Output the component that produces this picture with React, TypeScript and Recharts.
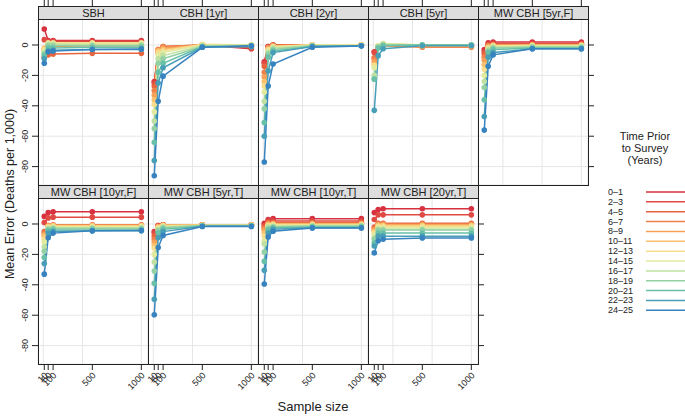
import React from "react";
import { LineChart, Line, XAxis, YAxis, CartesianGrid } from "recharts";

// sample sizes on the x axis
const sampleSizes = [10, 50, 100, 500, 1000];
const xGridTicks = [0, 200, 400, 600, 800, 1000];
const yTicks = [-80, -60, -40, -20, 0];

const periods = [
  "0–1", "2–3", "4–5", "6–7", "8–9", "10–11", "12–13",
  "14–15", "16–17", "18–19", "20–21", "22–23", "24–25",
];
const periodColors = [
  "#D7303F", "#DF4A43", "#E8643F", "#EF8049", "#F5A058", "#F9C06D", "#F8DD8C",
  "#E2EA9E", "#BEE0A0", "#93D1A4", "#68C0A8", "#479EB7", "#3783BF",
];

// mean error per period (rows) and sample size (columns)
const sbh = [
  [10.5, 3, 3, 3, 3],
  [3.5, 2.5, 2.5, 2.5, 2.5],
  [-8, -6.5, -6, -5.5, -5.5],
  [-3, -1, -1, -0.5, -0.5],
  [-4, 0, 0, 0, 0],
  [-2, 1, 1, 1, 1],
  [-3, 1.5, 1.5, 1.5, 1.5],
  [-4, 1, 1, 1, 1],
  [-5, 0.5, 0.5, 0, 0],
  [-6, -0.5, -0.5, -0.5, -0.5],
  [-7, -2, -2, -1.5, -1.5],
  [-9, -4, -3.5, -3, -3],
  [-12, -4.5, -4, -3, -2.6],
];
const cbh1 = [
  [-24, -5, -2, 0, -2.5],
  [-25, -4, -1.5, 0, -2],
  [-27, -3, -1, 0, -1],
  [-30, -3, -1, 0, -0.5],
  [-33, -3.5, -2, 0, 0],
  [-36, -4, -3, 0, 0],
  [-39, -5, -4, 0.5, 0],
  [-44, -7, -5, 0, 0],
  [-50, -9, -7, -0.5, 0],
  [-55, -12, -9, -1, -0.5],
  [-64, -18, -12, -1, -1],
  [-76, -25, -15, -1.5, -1],
  [-86, -37, -20.5, -1.5, -0.5],
];
const cbh2 = [
  [-11, -1, 0, 0, 0],
  [-12, -1, 0, 0, 0],
  [-14, -1.5, 0, 0, 0],
  [-18, -2, -0.5, 0, 0],
  [-21, -2, -0.5, 0, 0],
  [-24, -3, -1, 0, 0],
  [-27, -3, -1, 0, 0],
  [-31, -4, -1.5, 0, 0],
  [-37, -5, -2, -0.5, -0.5],
  [-42, -6, -3, -0.5, -0.5],
  [-51, -8, -4, -1, -0.5],
  [-60, -17, -5, -1, -0.5],
  [-77, -27, -12.5, -1.5, -0.7],
];
const cbh5 = [
  [-4.5, -1, 0, 0, 0],
  [-5, -1, 0, -0.5, -0.5],
  [-8.5, -1, 0, -1, -1],
  [-9, -1.5, -0.5, -1.5, -1.5],
  [-11, -1, 0, -1, -1],
  [-13, -1, 0.5, -0.5, -0.5],
  [-13.5, -0.5, 1, 0, 0],
  [-15, -0.5, 1, 0, 0],
  [-20, -1, 0.5, 0, 0],
  [-22, -1.5, 0, 0, 0],
  [-22.5, -2, -0.5, 0, 0],
  [-43, -7, -2.5, -0.5, -0.5],
  [null, null, null, null, null],
];
const mw5f = [
  [-3, 1.5, 2, 2, 2],
  [-4.5, 0.5, 1, 1, 1],
  [-6, 0, 0.5, 0.5, 0.5],
  [-8, -0.5, 0, 0, 0],
  [-10, -1, 0, 0, 0],
  [-13, -1.5, -0.5, 0, 0],
  [-16, -2, -0.5, -0.5, -0.5],
  [-20, -2.5, -1, -0.5, -0.5],
  [-24, -3, -1.5, -1, -1],
  [-28, -4, -2, -1.5, -1.5],
  [-36, -5, -3, -2, -2],
  [-47, -8, -5, -2.5, -2.5],
  [-56, -14, -6.5, -2.5, -2.5],
];
const mw10f = [
  [5, 7.5, 8, 8, 8],
  [1, 4, 4.5, 4.5, 4.5],
  [-5, -1, -0.5, -0.5, -0.5],
  [-6, -1, -1, -1, -1],
  [-7, -1.5, -1, -1, -1],
  [-8, -1.5, -1, -1, -1],
  [-10, -2, -1.5, -1.5, -1.5],
  [-12, -2.5, -2, -2, -2],
  [-15, -3, -2.5, -2.5, -2.5],
  [-18, -3.5, -3, -3, -3],
  [-22, -4.5, -4, -4, -4],
  [-26, -6, -5, -4.5, -4.5],
  [-33, -9, -6, -4.5, -4.2],
];
const mw5t = [
  [-5, -1, -0.5, -0.5, -0.5],
  [-6, -1, -0.5, -0.5, -0.5],
  [-8, -1.5, -0.5, -0.5, -0.5],
  [-10, -1.5, -0.5, -0.5, -0.5],
  [-12, -2, -1, -0.5, -0.5],
  [-14, -2, -1, -0.5, -0.5],
  [-16, -2.5, -1, -1, -1],
  [-20, -3, -1.5, -1, -1],
  [-25, -3.5, -2, -1, -1],
  [-31, -4.5, -2.5, -1, -1],
  [-39, -6, -3.5, -1.5, -1.5],
  [-49.5, -9, -5, -1.5, -1.5],
  [-59.7, -15.5, -7.5, -1.6, -1.6],
];
const mw10t = [
  [0.5, 3, 3.5, 3.5, 3.5],
  [-1, 2, 2, 2, 2],
  [-2, 1, 1, 1, 1],
  [-3, 0.5, 0.5, 0.5, 0.5],
  [-4, 0, 0, 0, 0],
  [-6, -0.5, 0, 0, 0],
  [-8, -1, -0.5, -0.5, -0.5],
  [-11, -1.5, -1, -1, -1],
  [-13, -2, -1.5, -1, -1],
  [-18.5, -3, -2, -1.5, -1.5],
  [-24.5, -4, -2.5, -2, -2],
  [-30.5, -6, -3.5, -2.5, -2.5],
  [-39.5, -8.5, -4.8, -2.6, -2.6],
];
const mw20t = [
  [7.5, 9.5, 10, 10, 10],
  [3, 6, 6, 6, 6],
  [-2, 0.5, 0.5, 0.5, 0.5],
  [-3, 0, 0, 0, 0],
  [-4, -0.5, -0.5, -0.5, -0.5],
  [-5, -1, -1, -1, -1],
  [-6, -1.5, -1.5, -1.5, -1.5],
  [-7, -2.5, -2.5, -2.5, -2.5],
  [-9, -3.5, -3.5, -3.5, -3.5],
  [-10, -4, -4, -4, -4],
  [-12.5, -6, -6, -6, -6],
  [-14.5, -8, -8, -8, -8],
  [-19, -11, -10, -9.2, -9.2],
];

const panelTitles = [
  "SBH", "CBH [1yr]", "CBH [2yr]", "CBH [5yr]", "MW CBH [5yr,F]",
  "MW CBH [10yr,F]", "MW CBH [5yr,T]", "MW CBH [10yr,T]", "MW CBH [20yr,T]",
];
const panelValues = [sbh, cbh1, cbh2, cbh5, mw5f, mw10f, mw5t, mw10t, mw20t];

// layout
const FONT = "'Liberation Sans', Arial, Helvetica, sans-serif";
const X_DOMAIN: [number, number] = [-54, 1068];
const Y_DOMAIN: [number, number] = [-92.1, 17.1];
const COL_LEFT = 38;
const PANEL_W = 110;
const PANEL_H = 166;
const STRIP_H = 13;
const STRIP_TOP = [6, 185];
const INK = "#222";

function buildRows(values: (number | null)[][]) {
  return sampleSizes.map((n, j) => {
    const row: Record<string, number | null> = { n };
    values.forEach((series, i) => {
      row["s" + i] = series[j];
    });
    return row;
  });
}

const NoLabel = () => <g />;

const LeftTick = (props: any) => {
  const { x, y, payload } = props;
  const tx = x - 2;
  return (
    <text x={tx} y={y} transform={`rotate(-90 ${tx} ${y})`} textAnchor="middle"
      fontSize={9} fill={INK} fontFamily={FONT}>
      {payload.value}
    </text>
  );
};

const BottomTick = (props: any) => {
  const { x, y, payload } = props;
  const tx = x + 4;
  const ty = y + 4;
  return (
    <text x={tx} y={ty} transform={`rotate(-45 ${tx} ${ty})`} textAnchor="end"
      fontSize={9} fill={INK} fontFamily={FONT}>
      {payload.value}
    </text>
  );
};

function Panel({ index }: { index: number }) {
  const row = index < 5 ? 0 : 1;
  const col = index < 5 ? index : index - 5;
  const lastCol = row === 0 ? 4 : 3;
  const showLeft = col === 0;
  const showRight = col === lastCol;
  const showBottom = row === 1;
  const axisW = showLeft ? 38 : showRight ? 8 : 0;
  // room on the left for rotated bottom labels that lean past the panel edge
  const padLeft = showBottom && !showLeft ? 20 : 0;
  const rows = buildRows(panelValues[index]);
  const left = COL_LEFT + col * PANEL_W - (showLeft ? axisW : 0) - padLeft;
  const top = STRIP_TOP[row] + STRIP_H;

  return (
    <div style={{ position: "absolute", left, top }}>
      <LineChart
        width={PANEL_W + axisW + padLeft}
        height={PANEL_H + (showBottom ? 40 : 0)}
        data={rows}
        margin={{ top: 0, right: 0, bottom: 0, left: padLeft }}
      >
        <XAxis xAxisId="grid" type="number" dataKey="n" domain={X_DOMAIN}
          ticks={xGridTicks} allowDataOverflow hide />
        <XAxis
          type="number"
          dataKey="n"
          domain={X_DOMAIN}
          ticks={sampleSizes}
          interval={0}
          allowDataOverflow
          hide={!showBottom}
          height={40}
          tickSize={6}
          axisLine={false}
          tickLine={{ stroke: INK }}
          tick={BottomTick}
        />
        <YAxis
          type="number"
          domain={Y_DOMAIN}
          ticks={yTicks}
          interval={0}
          allowDataOverflow
          hide={!showLeft && !showRight}
          orientation={showLeft ? "left" : "right"}
          width={axisW}
          tickSize={6}
          axisLine={false}
          tickLine={{ stroke: INK }}
          tick={showLeft ? LeftTick : NoLabel}
        />
        <CartesianGrid xAxisId="grid" stroke="#E6E6E6" />
        {periods.map((p, i) => (
          <Line
            key={p}
            dataKey={"s" + i}
            name={p}
            stroke={periodColors[i]}
            strokeWidth={1.5}
            dot={{ r: 2.8, fill: periodColors[i], stroke: periodColors[i], strokeWidth: 0 }}
            isAnimationActive={false}
          />
        ))}
      </LineChart>
    </div>
  );
}

function TopTicks({ col }: { col: number }) {
  const rows = buildRows(panelValues[col]);
  return (
    <div style={{ position: "absolute", left: COL_LEFT + col * PANEL_W, top: 0 }}>
      <LineChart width={PANEL_W} height={STRIP_TOP[0] + 30} data={rows}
        margin={{ top: 0, right: 0, bottom: 0, left: 0 }}>
        <XAxis
          orientation="top"
          type="number"
          dataKey="n"
          domain={X_DOMAIN}
          ticks={sampleSizes}
          interval={0}
          allowDataOverflow
          height={STRIP_TOP[0] + 1}
          tickSize={STRIP_TOP[0] + 1}
          axisLine={false}
          tickLine={{ stroke: INK }}
          tick={NoLabel}
        />
        <YAxis hide domain={Y_DOMAIN} />
        <Line dataKey="s0" stroke="none" dot={false} isAnimationActive={false} />
      </LineChart>
    </div>
  );
}

function Frames() {
  return (
    <>
      {panelTitles.map((title, index) => {
        const row = index < 5 ? 0 : 1;
        const col = index < 5 ? index : index - 5;
        const left = COL_LEFT + col * PANEL_W;
        return (
          <React.Fragment key={title}>
            <div style={{
              position: "absolute", left, top: STRIP_TOP[row] + STRIP_H,
              width: PANEL_W + 1, height: PANEL_H + 1, boxSizing: "border-box",
              border: `1px solid ${INK}`,
            }} />
            <div style={{
              position: "absolute", left, top: STRIP_TOP[row],
              width: PANEL_W + 1, height: STRIP_H + 1, boxSizing: "border-box",
              border: `1px solid ${INK}`, background: "#DDDDDD",
              fontSize: 11, lineHeight: `${STRIP_H - 1}px`, textAlign: "center",
              color: INK, fontFamily: FONT, whiteSpace: "nowrap",
            }}>
              {title}
            </div>
          </React.Fragment>
        );
      })}
    </>
  );
}

function Labels() {
  const legendTop = 192;
  const legendStep = 9.86;
  return (
    <svg width={685} height={416} style={{ position: "absolute", left: 0, top: 0 }}
      fontFamily={FONT}>
      <text x={14} y={194} transform="rotate(-90 14 194)" textAnchor="middle"
        fontSize={12.5} fill={INK}>
        Mean Error (Deaths per 1,000)
      </text>
      <text x={313} y={411} textAnchor="middle" fontSize={13} fill={INK}>
        Sample size
      </text>
      <text x={645} y={140} textAnchor="middle" fontSize={11} fill={INK}>Time Prior</text>
      <text x={645} y={152} textAnchor="middle" fontSize={11} fill={INK}>to Survey</text>
      <text x={645} y={164} textAnchor="middle" fontSize={11} fill={INK}>(Years)</text>
      {periods.map((p, i) => {
        const y = legendTop + i * legendStep;
        return (
          <g key={p}>
            <text x={608} y={y + 3} fontSize={9} fill={INK}>{p}</text>
            <line x1={646} x2={685} y1={y} y2={y} stroke={periodColors[i]} strokeWidth={1.5} />
          </g>
        );
      })}
    </svg>
  );
}

export default function App() {
  return (
    <div style={{
      position: "absolute", left: 0, top: 0, width: 685, height: 416,
      background: "#fff", overflow: "hidden", fontFamily: FONT,
    }}>
      {[0, 1, 2, 3, 4].map((c) => <TopTicks key={c} col={c} />)}
      {panelTitles.map((t, i) => <Panel key={t} index={i} />)}
      <Frames />
      <Labels />
    </div>
  );
}
